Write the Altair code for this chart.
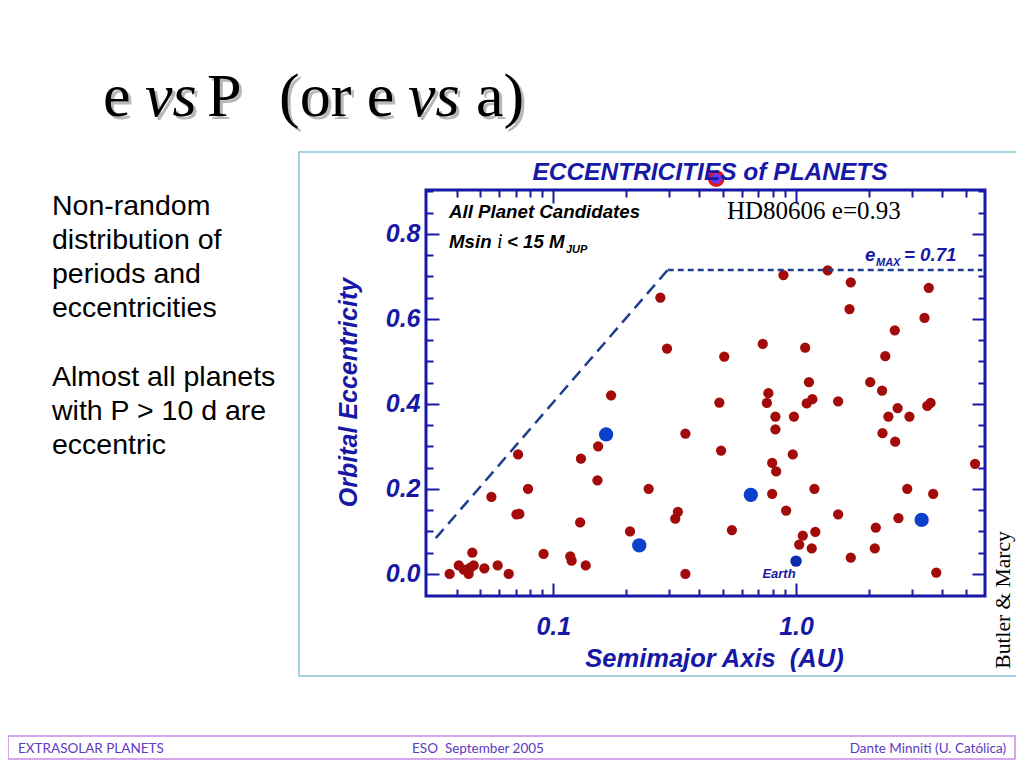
import altair as alt
import pandas as pd

# ---------------- data ----------------
red_a = [0.0374, 0.0408, 0.0428, 0.0448, 0.0455, 0.0464, 0.0470, 0.0520, 0.0590, 0.0655,
         0.0556, 0.0705, 0.0725, 0.0716, 0.0787, 0.0912, 0.1175, 0.119, 0.129, 0.130,
         0.136, 0.152, 0.153, 0.173, 0.207, 0.247, 0.276, 0.294, 0.318, 0.326,
         0.350, 0.350, 0.483, 0.491, 0.506, 0.544, 0.729, 0.758, 0.769, 0.797,
         0.797, 0.822, 0.822, 0.828, 0.887, 0.91, 0.969, 0.98, 1.03, 1.066,
         1.09, 1.106, 1.13, 1.16, 1.167, 1.19, 1.2, 1.35, 1.49, 1.49,
         1.66, 1.68, 1.68, 2.02, 2.11, 2.13, 2.26, 2.27, 2.33, 2.40,
         2.55, 2.56, 2.62, 2.64, 2.87, 2.93, 3.38, 3.47, 3.52, 3.58,
         3.67, 3.78, 5.46]
red_e = [0.00, 0.02, 0.01, 0.00, 0.015, 0.05, 0.02, 0.013, 0.02, 0.00,
         0.181, 0.14, 0.141, 0.281, 0.20, 0.047, 0.041, 0.031, 0.121, 0.271,
         0.02, 0.22, 0.30, 0.42, 0.10, 0.20, 0.65, 0.53, 0.13, 0.146,
         0.33, 0.00, 0.403, 0.29, 0.511, 0.103, 0.541, 0.402, 0.425, 0.261,
         0.188, 0.37, 0.34, 0.241, 0.703, 0.149, 0.281, 0.37, 0.069, 0.09,
         0.532, 0.401, 0.451, 0.06, 0.411, 0.20, 0.099, 0.714, 0.406, 0.14,
         0.623, 0.686, 0.038, 0.451, 0.06, 0.109, 0.431, 0.331, 0.512, 0.37,
         0.573, 0.311, 0.39, 0.131, 0.20, 0.37, 0.602, 0.395, 0.673, 0.402,
         0.188, 0.003, 0.259]

solar_a = [0.165, 0.226, 0.651, 3.29]
solar_e = [0.328, 0.067, 0.186, 0.127]
earth_a = [1.0]
earth_e = [0.03]
hd_a = [0.469]
hd_e = [0.93]

diag_a = [0.0328, 0.296]
diag_e = [0.084, 0.715]
flat_a = [0.296, 5.85]
flat_e = [0.715, 0.715]

x_ticks = [0.04, 0.05, 0.06, 0.07, 0.08, 0.09, 0.1, 0.2, 0.3, 0.4, 0.5, 0.6, 0.7,
           0.8, 0.9, 1.0, 2.0, 3.0, 4.0, 5.0]
y_ticks = [0.0, 0.05, 0.1, 0.15, 0.2, 0.25, 0.3, 0.35, 0.4, 0.45, 0.5, 0.55, 0.6,
           0.65, 0.7, 0.75, 0.8, 0.85, 0.9]

# slide title pieces: (text, style, left edge on the page)
slide_title = [("e", "normal", 103), ("vs", "italic", 145), ("P", "normal", 207),
               ("(or e", "normal", 279), ("vs", "italic", 408), ("a)", "normal", 476)]
para1 = ["Non-random", "distribution of", "periods and", "eccentricities"]
para2 = ["Almost all planets", "with P > 10 d are", "eccentric"]
footer = ["EXTRASOLAR PLANETS", "ESO\u00a0\u00a0September 2005", "Dante Minniti (U. Cat\u00f3lica)"]

# ---------------- styling ----------------
BLUE = "#1818a6"
RED = "#a30b0b"
DOT_BLUE = "#0b40cc"
HEL = "'Liberation Sans', Arial, Helvetica, sans-serif"
SERIF = "'Liberation Serif', 'Times New Roman', serif"
SANS = "'Liberation Sans', Arial, sans-serif"
FOOT = "Lato, 'Open Sans', sans-serif"

X0, Y0 = 426, 190          # plot origin on the page
PW, PH = 559, 406          # plot size
CW, CH = 1008, 752         # canvas size

one = pd.DataFrame({"k": [0]})


def px(x):
    return alt.value(x - X0)


def py(y):
    return alt.value(y - Y0)


def txt(text, x, y, size, font, color="black", style="normal", weight="normal",
        align="left", baseline="alphabetic", angle=0, line_height=None):
    kw = dict(text=text, fontSize=size, font=font, color=color, fontStyle=style,
              fontWeight=weight, align=align, baseline=baseline)
    if angle:
        kw["angle"] = angle
    if line_height:
        kw["lineHeight"] = line_height
    return alt.Chart(one).mark_text(**kw).encode(x=px(x), y=py(y))


xs = alt.Scale(type="log", domain=[0.0299, 6.0], nice=False)
ys = alt.Scale(domain=[-0.052, 0.903], nice=False, zero=False)

X_MAJOR = "(datum.value == 0.1 || datum.value == 1)"
Y_MAJOR = "(abs(datum.value * 5 - round(datum.value * 5)) < 0.001)"

common_axis = dict(domain=False, grid=False, tickColor=BLUE, tickWidth=2,
                   labelOverlap=False, labelFlush=False, labelBound=False)


def x_axis(orient, labels):
    kw = dict(common_axis, orient=orient, values=x_ticks,
              tickSize={"expr": f"{X_MAJOR} ? -13 : -7"}, labels=labels)
    if labels:
        kw.update(labelExpr="datum.value == 0.1 ? '0.1' : (datum.value == 1 ? '1.0' : '')",
                  labelFont=HEL, labelFontSize=25, labelFontStyle="italic",
                  labelFontWeight="bold", labelColor=BLUE, labelPadding=31,
                  title="Semimajor Axis\u00a0\u00a0(AU)", titleFont=HEL, titleFontSize=25.5,
                  titleFontStyle="italic", titleFontWeight="bold", titleColor=BLUE,
                  titleX=288, titleY=62, titleAlign="center", titleBaseline="middle",
                  titleAngle=0)
    else:
        kw.update(title=None)
    return alt.Axis(**kw)


def y_axis(orient, labels):
    kw = dict(common_axis, orient=orient, values=y_ticks,
              tickSize={"expr": f"{Y_MAJOR} ? -13 : -7"}, labels=labels)
    if labels:
        kw.update(labelExpr=f"{Y_MAJOR} ? format(datum.value, '.1f') : ''",
                  labelFont=HEL, labelFontSize=25, labelFontStyle="italic",
                  labelFontWeight="bold", labelColor=BLUE, labelPadding=19,
                  labelAlign="right", labelBaseline="middle",
                  title="Orbital Eccentricity", titleFont=HEL, titleFontSize=25,
                  titleFontStyle="italic", titleFontWeight="bold", titleColor=BLUE,
                  titleX=-78, titleY=202, titleAlign="center", titleBaseline="middle",
                  titleAngle=270)
    else:
        kw.update(title=None)
    return alt.Axis(**kw)


# ---------------- frames ----------------
cyan_box = alt.Chart(one).mark_rect(filled=False, stroke="#86c6d8", strokeWidth=1.5).encode(
    x=px(299), x2=px(1060), y=py(152), y2=py(676))
foot_box = alt.Chart(one).mark_rect(filled=False, stroke="#c88ae8", strokeWidth=1.5).encode(
    x=px(8), x2=px(1015), y=py(736), y2=py(759))

# ---------------- data layers ----------------
df_red = pd.DataFrame({"a": red_a, "e": red_e})
df_sol = pd.DataFrame({"a": solar_a, "e": solar_e})
df_earth = pd.DataFrame({"a": earth_a, "e": earth_e})
df_hd = pd.DataFrame({"a": hd_a, "e": hd_e})
df_diag = pd.DataFrame({"a": diag_a, "e": diag_e})
df_flat = pd.DataFrame({"a": flat_a, "e": flat_e})

red = alt.Chart(df_red).mark_circle(size=105, color=RED, opacity=1).encode(
    x=alt.X("a:Q", scale=xs, axis=x_axis("bottom", True)),
    y=alt.Y("e:Q", scale=ys, axis=y_axis("left", True)))
sol = alt.Chart(df_sol).mark_circle(size=205, color=DOT_BLUE, opacity=1).encode(
    x=alt.X("a:Q", scale=xs, axis=x_axis("top", False)),
    y=alt.Y("e:Q", scale=ys, axis=y_axis("right", False)))
earth = alt.Chart(df_earth).mark_circle(size=130, color="#0a2cae", opacity=1).encode(
    x=alt.X("a:Q", scale=xs, axis=None), y=alt.Y("e:Q", scale=ys, axis=None))
hd = alt.Chart(df_hd).mark_circle(size=190, fill="#6a38f2", stroke="#e3141a",
                                  strokeWidth=3, opacity=1).encode(
    x=alt.X("a:Q", scale=xs, axis=None), y=alt.Y("e:Q", scale=ys, axis=None))
diag = alt.Chart(df_diag).mark_line(color="#1e3f8e", strokeWidth=2.5, strokeDash=[12, 7]).encode(
    x=alt.X("a:Q", scale=xs, axis=None), y=alt.Y("e:Q", scale=ys, axis=None))
flat = alt.Chart(df_flat).mark_line(color="#1e3f8e", strokeWidth=2.5, strokeDash=[6, 4]).encode(
    x=alt.X("a:Q", scale=xs, axis=None), y=alt.Y("e:Q", scale=ys, axis=None))

# ---------------- texts ----------------
texts = []
for t, st, x in slide_title:
    texts.append(txt(t, x + 3, 119, 62, SERIF, color="#b8b8b8", style=st))
for t, st, x in slide_title:
    texts.append(txt(t, x, 116, 62, SERIF, color="black", style=st))

texts.append(txt(para1, 52, 215, 28.5, SANS, line_height=34))
texts.append(txt(para2, 52, 386, 28.5, SANS, line_height=34))

texts.append(txt("ECCENTRICITIES of PLANETS", 710, 180, 24.5, HEL, color=BLUE,
                 style="italic", weight="bold", align="center"))
texts.append(txt("All Planet Candidates", 449, 218, 18.7, HEL, style="italic", weight="bold"))
texts.append(txt("Msin", 449, 248, 18.7, HEL, style="italic", weight="bold"))
texts.append(txt("i", 497, 248, 20, SERIF, style="italic"))
texts.append(txt("< 15 M", 507, 248, 18.7, HEL, style="italic", weight="bold"))
texts.append(txt("JUP", 566, 253, 11, HEL, style="italic", weight="bold"))
texts.append(txt("HD80606 e=0.93", 727, 219, 25, SERIF))
texts.append(txt("e", 865, 261, 18.7, HEL, color=BLUE, style="italic", weight="bold"))
texts.append(txt("MAX", 876, 266, 11, HEL, color=BLUE, style="italic", weight="bold"))
texts.append(txt("= 0.71", 904, 261, 18.7, HEL, color=BLUE, style="italic", weight="bold"))
texts.append(txt("Earth", 779, 578, 13, HEL, color="#1a1a9a", style="italic",
                 weight="bold", align="center"))
texts.append(txt("Butler & Marcy", 1010, 600, 21.5, SERIF, align="center", angle=270))

texts.append(txt(footer[0], 18, 749, 13.5, FOOT, color="#5b3bbf", baseline="middle"))
texts.append(txt(footer[1], 478, 749, 13.5, FOOT, color="#5b3bbf", baseline="middle",
                 align="center"))
texts.append(txt(footer[2], 1006, 749, 13.5, FOOT, color="#5b3bbf", baseline="middle",
                 align="right"))

chart = alt.layer(red, sol, cyan_box, foot_box, diag, flat, earth, hd, *texts).resolve_axis(
    x="independent", y="independent"
).properties(
    width=PW, height=PH,
    padding={"left": X0 - 8, "top": Y0 - 8, "right": CW - (X0 - 8) - PW,
             "bottom": CH - (Y0 - 8) - PH},
    autosize=alt.AutoSizeParams(type="none"),
    background="white",
).configure_view(stroke=BLUE, strokeWidth=3)

chart.save("out.html", embed_options={"renderer": "svg", "actions": False})
